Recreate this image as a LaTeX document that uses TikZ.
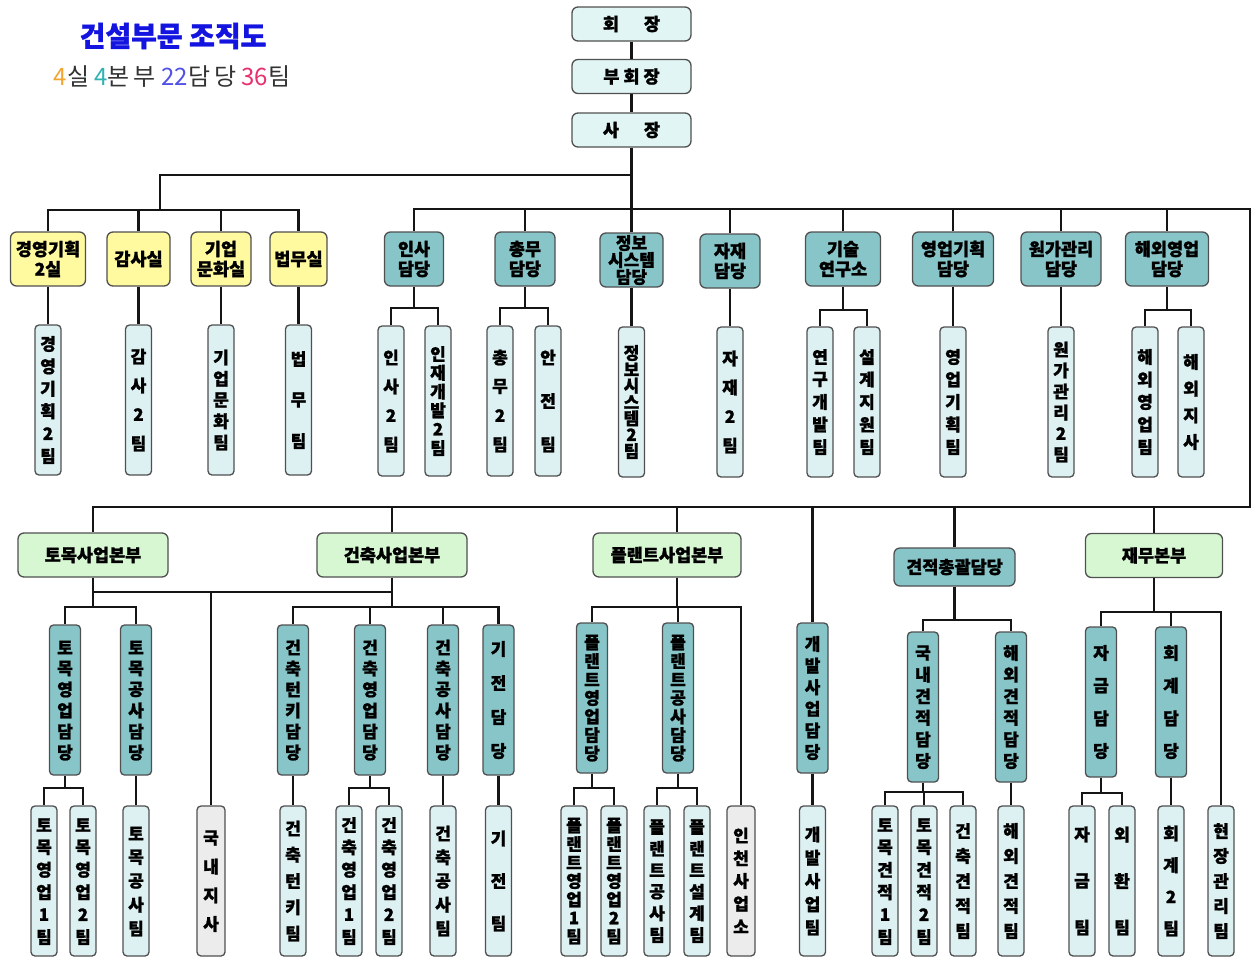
\documentclass[tikz,border=0pt]{standalone}
\usepackage{fontspec}
\setmainfont{Noto Sans CJK KR}[BoldFeatures={FakeBold=1.2}]
\definecolor{topc}{HTML}{E2F5F5}
\definecolor{ylw}{HTML}{FFF9A0}
\definecolor{teal2}{HTML}{88C5C9}
\definecolor{teamc}{HTML}{DDF0F2}
\definecolor{grn}{HTML}{D6F7D2}
\definecolor{gry}{HTML}{ECECEC}
\definecolor{bord}{HTML}{505050}
\definecolor{lin}{HTML}{151515}
\definecolor{ttl}{HTML}{1414E0}
\definecolor{subc}{HTML}{333333}
\definecolor{cfa}{HTML}{F2A530}
\definecolor{cfb}{HTML}{30B2B2}
\definecolor{ctt}{HTML}{5050E8}
\definecolor{cts}{HTML}{E8306A}
\tikzset{
  box/.style={draw=bord, line width=1.3pt, rounded corners=6pt, inner sep=0pt, align=center,
    font=\bfseries\fontsize{17.5}{20}\selectfont},
  topbox/.style={box, fill=topc, minimum width=119pt, minimum height=34pt},
  ybox/.style={box, fill=ylw, minimum height=54pt},
  tbox/.style={box, fill=teal2, minimum height=54pt},
  gbox/.style={box, fill=grn, minimum height=44pt},
  vdam/.style={box, rounded corners=4pt, fill=teal2, minimum width=31pt, minimum height=150pt},
  vteam/.style={box, rounded corners=4pt, fill=teamc, minimum width=26pt, minimum height=150pt},
  vgray/.style={vteam, fill=gry, minimum width=28pt},
  vch/.style={inner sep=0pt, font=\bfseries\fontsize{17}{17}\selectfont},
  conn/.style={draw=lin, line width=2.2pt},
}
\newcommand\vl[3][0]{%
  \gdef\nch{0}%
  \foreach \c in {#3}{\pgfmathtruncatemacro\tmpn{\nch+1}\global\let\nch\tmpn}%
  \pgfmathsetmacro\spn{#1>0 ? #1 : (\nch<5 ? 87 : (\nch==5 ? 95 : 108))}%
  \pgfmathsetmacro\stp{\spn/(\nch-1)}%
  \foreach \c [count=\i] in {#3}{\path (#2.center) ++(0,{(\i-(\nch+1)/2)*\stp}) node[vch]{\c};}%
}
\newcommand\fork[4]{%
  \draw[conn] (#1.south) -- (#1.south |- 0,#2);
  \draw[conn] (#3.north) |- (#4.north |- 0,#2) -- (#4.north);
}
\begin{document}
\begin{tikzpicture}[x=1pt,y=-1pt]
\path[use as bounding box, fill=white] (0,0) rectangle (1255,959);

% title
\node[font=\bfseries\fontsize{28}{30}\selectfont, text=ttl] (title) at (173,36) {건설부문 조직도};
\node[font=\fontsize{24}{26}\selectfont, text=subc] (sub) at (172,77)
  {\textcolor{cfa}{4}실 \textcolor{cfb}{4}본\,부 \textcolor{ctt}{22}담\,당 \textcolor{cts}{36}팀};

% top chain
\node[topbox] (hoe) at (631.5,24) {회\hspace{25pt}장};
\node[topbox] (buhoe) at (631.5,76.5) {부\hspace{4pt}회\hspace{4pt}장};
\node[topbox] (sa) at (631.5,130) {사\hspace{25pt}장};

% row 1 heads
\node[ybox, minimum width=75pt] (y1) at (48,259) {경영기획\\2실};
\node[ybox, minimum width=63pt] (y2) at (138.5,259) {감사실};
\node[ybox, minimum width=60pt] (y3) at (221,259) {기업\\문화실};
\node[ybox, minimum width=57pt] (y4) at (298.5,259) {법무실};
\node[tbox, minimum width=59pt] (d1) at (414,259) {인사\\담당};
\node[tbox, minimum width=60pt] (d2) at (525,259) {총무\\담당};
\node[tbox, minimum width=63pt, font=\bfseries\fontsize{17}{17}\selectfont] (d3) at (631.5,260) {정보\\시스템\\담당};
\node[tbox, minimum width=60pt] (d4) at (730,261) {자재\\담당};
\node[tbox, minimum width=75pt] (d5) at (843,259) {기술\\연구소};
\node[tbox, minimum width=81pt] (d6) at (953,259) {영업기획\\담당};
\node[tbox, minimum width=80pt] (d7) at (1061,259) {원가관리\\담당};
\node[tbox, minimum width=83pt] (d8) at (1167,259) {해외영업\\담당};

% row 1 teams
\node[vteam] (a1) at (48,400) {};     \vl[112]{a1}{경,영,기,획,2,팀}
\node[vteam] (a2) at (138.5,400) {};  \vl{a2}{감,사,2,팀}
\node[vteam] (a3) at (221,400) {};    \vl[85]{a3}{기,업,문,화,팀}
\node[vteam] (a4) at (298.5,400) {};  \vl[82]{a4}{법,무,팀}
\node[vteam] (a5) at (391,401) {};    \vl{a5}{인,사,2,팀}
\node[vteam] (a6) at (438,401) {};    \vl[94]{a6}{인,재,개,발,2,팀}
\node[vteam] (a7) at (500,401) {};    \vl{a7}{총,무,2,팀}
\node[vteam] (a8) at (548,401) {};    \vl{a8}{안,전,팀}
\node[vteam] (a9) at (631.5,402) {};  \vl[98]{a9}{정,보,시,스,템,2,팀}
\node[vteam] (a10) at (730,402) {};   \vl{a10}{자,재,2,팀}
\node[vteam] (a11) at (820,402) {};   \vl[90]{a11}{연,구,개,발,팀}
\node[vteam] (a12) at (867,402) {};   \vl[90]{a12}{설,계,지,원,팀}
\node[vteam] (a13) at (953,402) {};   \vl[90]{a13}{영,업,기,획,팀}
\node[vteam] (a14) at (1061,402) {};  \vl[105]{a14}{원,가,관,리,2,팀}
\node[vteam] (a15) at (1145,402) {};  \vl[90]{a15}{해,외,영,업,팀}
\node[vteam] (a16) at (1191,402) {};  \vl[80]{a16}{해,외,지,사}

% row 2 heads
\node[gbox, minimum width=150pt] (g1) at (93,555) {토목사업본부};
\node[gbox, minimum width=150pt] (g2) at (392,555) {건축사업본부};
\node[gbox, minimum width=148pt] (g3) at (667,555) {플랜트사업본부};
\node[tbox, minimum width=121pt, minimum height=38pt] (g4) at (954.5,567) {견적총괄담당};
\node[gbox, minimum width=137pt] (g5) at (1154,555.5) {재무본부};

% row 2 vertical heads
\node[vdam] (e1) at (65,700) {};      \vl[105]{e1}{토,목,영,업,담,당}
\node[vdam] (e2) at (136,700) {};     \vl[105]{e2}{토,목,공,사,담,당}
\node[vdam] (e3) at (293,700) {};     \vl[105]{e3}{건,축,턴,키,담,당}
\node[vdam] (e4) at (370,700) {};     \vl[105]{e4}{건,축,영,업,담,당}
\node[vdam] (e5) at (443,700) {};     \vl[105]{e5}{건,축,공,사,담,당}
\node[vdam] (e6) at (498.5,700) {};   \vl[102]{e6}{기,전,담,당}
\node[vdam] (e7) at (592,698) {};     \vl[111]{e7}{플,랜,트,영,업,담,당}
\node[vdam] (e8) at (678,698) {};     \vl[111]{e8}{플,랜,트,공,사,담,당}
\node[vdam] (e9) at (812.5,698) {};   \vl[108]{e9}{개,발,사,업,담,당}
\node[vdam] (e10) at (923,707) {};    \vl[108]{e10}{국,내,견,적,담,당}
\node[vdam] (e11) at (1011,707) {};   \vl[108]{e11}{해,외,견,적,담,당}
\node[vdam] (e12) at (1101,702) {};   \vl[98]{e12}{자,금,담,당}
\node[vdam] (e13) at (1171,702) {};   \vl[98]{e13}{회,계,담,당}

% row 2 teams
\node[vteam] (f1) at (44,881) {};     \vl[112]{f1}{토,목,영,업,1,팀}
\node[vteam] (f2) at (83,881) {};     \vl[112]{f2}{토,목,영,업,2,팀}
\node[vteam] (f3) at (136,881) {};    \vl[95]{f3}{토,목,공,사,팀}
\node[vgray] (f4) at (211,881) {};    \vl[86]{f4}{국,내,지,사}
\node[vteam] (f5) at (293,881) {};    \vl[105]{f5}{건,축,턴,키,팀}
\node[vteam] (f6) at (349,881) {};    \vl[112]{f6}{건,축,영,업,1,팀}
\node[vteam] (f7) at (389,881) {};    \vl[112]{f7}{건,축,영,업,2,팀}
\node[vteam] (f8) at (443,881) {};    \vl[95]{f8}{건,축,공,사,팀}
\node[vteam] (f9) at (498.5,881) {};  \vl[85]{f9}{기,전,팀}
\node[vteam] (f10) at (574,881) {};   \vl[111]{f10}{플,랜,트,영,업,1,팀}
\node[vteam] (f11) at (614,881) {};   \vl[111]{f11}{플,랜,트,영,업,2,팀}
\node[vteam] (f12) at (657,881) {};   \vl[108]{f12}{플,랜,트,공,사,팀}
\node[vteam] (f13) at (697,881) {};   \vl[108]{f13}{플,랜,트,설,계,팀}
\node[vgray] (f14) at (741,881) {};   \vl[91]{f14}{인,천,사,업,소}
\node[vteam] (f15) at (812.5,881) {}; \vl[93]{f15}{개,발,사,업,팀}
\node[vteam] (f16) at (885,881) {};   \vl[112]{f16}{토,목,견,적,1,팀}
\node[vteam] (f17) at (924,881) {};   \vl[112]{f17}{토,목,견,적,2,팀}
\node[vteam] (f18) at (963,881) {};   \vl[100]{f18}{건,축,견,적,팀}
\node[vteam] (f19) at (1011,881) {};  \vl[100]{f19}{해,외,견,적,팀}
\node[vteam] (f20) at (1082,881) {};  \vl[93]{f20}{자,금,팀}
\node[vteam] (f21) at (1122,881) {};  \vl[93]{f21}{외,환,팀}
\node[vteam] (f22) at (1171,881) {};  \vl[95]{f22}{회,계,2,팀}
\node[vteam] (f23) at (1221,881) {};  \vl[100]{f23}{현,장,관,리,팀}

% ---- connectors ----
\draw[conn] (hoe.south) -- (buhoe.north);
\draw[conn] (buhoe.south) -- (sa.north);
\draw[conn] (sa.south) -- (d3.north);
\coordinate (jA) at (631.5,175);
\coordinate (lb) at (160,210);
\draw[conn] (jA) -| (lb);
\draw[conn] (y1.north) |- (lb) -| (y4.north);
\draw[conn] (y2.north) -- (y2.north |- lb);
\draw[conn] (y3.north) -- (y3.north |- lb);
\coordinate (rc1) at (1250,209);
\coordinate (rc2) at (1250,507);
\draw[conn] (d1.north) |- (rc1) -- (rc2) -| (g1.north);
\foreach \n in {d2,d4,d5,d6,d7,d8} {\draw[conn] (\n.north) -- (\n.north |- rc1);}
% row 1 singles
\draw[conn] (y1.south) -- (a1.north);
\draw[conn] (y2.south) -- (a2.north);
\draw[conn] (y3.south) -- (a3.north);
\draw[conn] (y4.south) -- (a4.north);
\draw[conn] (d3.south) -- (a9.north);
\draw[conn] (d4.south) -- (a10.north);
\draw[conn] (d6.south) -- (a13.north);
\draw[conn] (d7.south) -- (a14.north);
% row 1 forks
\fork{d1}{308}{a5}{a6}
\fork{d2}{308}{a7}{a8}
\fork{d5}{310}{a11}{a12}
\fork{d8}{310}{a15}{a16}

% row 2 drops
\coordinate (px) at (677,507);
\draw[conn] (g2.north) -- (g2.north |- rc2);
\draw[conn] (px) -- (g3.north -| px);
\draw[conn] (e9.north) -- (e9.north |- rc2);
\draw[conn] (g4.north) -- (g4.north |- rc2);
\draw[conn] (g5.north) -- (g5.north |- rc2);
% civil / architecture
\fork{g1}{607}{e1}{e2}
\draw[conn] (g1.south |- 0,592) -- (g2.south |- 0,592);
\draw[conn] (f4.north) -- (f4.north |- 0,592);
\fork{g2}{607}{e3}{e6}
\draw[conn] (e4.north) -- (e4.north |- 0,607);
\draw[conn] (e5.north) -- (e5.north |- 0,607);
% plant
\draw[conn] (g3.south -| px) -- (px |- 0,607);
\draw[conn] (e7.north) |- (f14.north |- 0,607) -- (f14.north);
\draw[conn] (e8.north) -- (e8.north |- 0,607);
% estimate, finance
\fork{g4}{620}{e10}{e11}
\fork{g5}{612}{e12}{f23}
\draw[conn] (e13.north) -- (e13.north |- 0,612);
% team forks
\fork{e1}{788}{f1}{f2}
\fork{e4}{788}{f6}{f7}
\fork{e7}{788}{f10}{f11}
\fork{e8}{788}{f12}{f13}
\fork{e10}{792}{f16}{f18}
\draw[conn] (f17.north) -- (f17.north |- 0,792);
\fork{e12}{793}{f20}{f21}
% team singles
\draw[conn] (e2.south) -- (f3.north);
\draw[conn] (e3.south) -- (f5.north);
\draw[conn] (e5.south) -- (f8.north);
\draw[conn] (e6.south) -- (f9.north);
\draw[conn] (e9.south) -- (f15.north);
\draw[conn] (e11.south) -- (f19.north);
\draw[conn] (e13.south) -- (f22.north);
\end{tikzpicture}
\end{document}
